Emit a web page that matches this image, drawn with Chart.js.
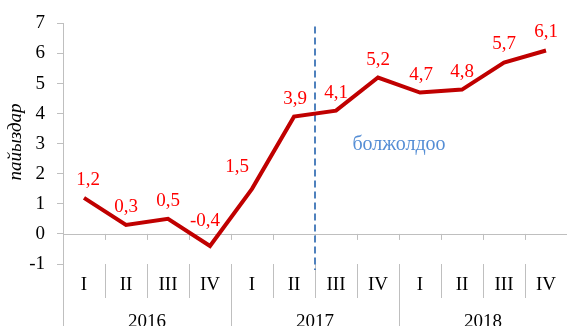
<!DOCTYPE html>
<html>
<head>
<meta charset="utf-8">
<script src="https://cdn.jsdelivr.net/npm/chart.js@4/dist/chart.umd.min.js"></script>
<style>
  body { margin: 0; background: #fff; }
  canvas { display: block; }
</style>
</head>
<body>
<canvas id="chart" width="567" height="326"></canvas>
<script>
// quarterly values, percent
const years = ["2016", "2017", "2018"];
const quarters = ["I", "II", "III", "IV"];
const values = [1.2, 0.3, 0.5, -0.4, 1.5, 3.9, 4.1, 5.2, 4.7, 4.8, 5.7, 6.1];
const yTicks = [-1, 0, 1, 2, 3, 4, 5, 6, 7];
const forecastFrom = 6; // first forecast quarter (2017 III)
const forecastText = "болжолдоо";
const yTitle = "пайыздар";

// small hand nudges for a couple of labels that sit off the line
const labelDx = [4, 0, 0, -5, -15, 1, 0, 0, 1, 0, 0, 0];
const labelDy = [0, 0, 0, -7, -4, 0, 0, 0, 0, 0, 0, 0];

const labels = [];
years.forEach(function (y) {
  quarters.forEach(function (q) { labels.push(q + " " + y); });
});

const serif = "'Liberation Serif', 'Times New Roman', serif";
const axisGray = "#bfbfbf";

const axesPlugin = {
  id: "quarterAxes",
  beforeDatasetsDraw: function (chart) {
    const ctx = chart.ctx;
    const xs = chart.scales.x;
    const ys = chart.scales.y;
    const area = chart.chartArea;
    const h = chart.height;
    const step = xs.getPixelForValue(1) - xs.getPixelForValue(0);
    const y0 = ys.getPixelForValue(0);

    ctx.save();
    ctx.strokeStyle = axisGray;
    ctx.lineWidth = 1;

    // zero line with small ticks at quarter boundaries
    ctx.beginPath();
    ctx.moveTo(area.left, Math.round(y0) + 0.5);
    ctx.lineTo(area.right, Math.round(y0) + 0.5);
    for (let i = 1; i <= values.length; i++) {
      const bx = Math.round(xs.getPixelForValue(i) - step / 2) + 0.5;
      ctx.moveTo(bx, y0);
      ctx.lineTo(bx, y0 + 6);
    }
    // y axis runs on down past the category rows
    ctx.moveTo(Math.round(area.left) + 0.5, area.bottom);
    ctx.lineTo(Math.round(area.left) + 0.5, h);
    // separators between quarters and years
    for (let i = 1; i < values.length; i++) {
      const bx = Math.round(xs.getPixelForValue(i) - step / 2) + 0.5;
      const yearEdge = i % quarters.length === 0;
      ctx.moveTo(bx, area.bottom);
      ctx.lineTo(bx, yearEdge ? h : area.bottom + 34);
    }
    ctx.stroke();

    ctx.fillStyle = "#000";
    ctx.font = "19px " + serif;
    ctx.textAlign = "center";
    ctx.textBaseline = "middle";
    for (let i = 0; i < values.length; i++) {
      ctx.fillText(quarters[i % quarters.length], xs.getPixelForValue(i), area.bottom + 21);
    }
    years.forEach(function (y, k) {
      const a = xs.getPixelForValue(k * quarters.length);
      const b = xs.getPixelForValue(k * quarters.length + quarters.length - 1);
      ctx.fillText(y, (a + b) / 2, area.bottom + 58);
    });

    // forecast divider
    const fx = xs.getPixelForValue(forecastFrom) - step / 2;
    ctx.strokeStyle = "#4f81bd";
    ctx.lineWidth = 2;
    ctx.setLineDash([7, 4]);
    ctx.beginPath();
    ctx.moveTo(fx, area.top + 3);
    ctx.lineTo(fx, area.bottom + 6);
    ctx.stroke();
    ctx.setLineDash([]);

    ctx.fillStyle = "#558ed5";
    ctx.font = "20px " + serif;
    ctx.fillText(forecastText, xs.getPixelForValue(7.5), ys.getPixelForValue(2.95));

    // rotated y title
    ctx.translate(16, 142);
    ctx.rotate(-Math.PI / 2);
    ctx.fillStyle = "#000";
    ctx.font = "italic 19px " + serif;
    ctx.fillText(yTitle, 0, 0);
    ctx.restore();
  },
  afterDatasetsDraw: function (chart) {
    const ctx = chart.ctx;
    const meta = chart.getDatasetMeta(0);
    ctx.save();
    ctx.fillStyle = "#ff0000";
    ctx.font = "19px " + serif;
    ctx.textAlign = "center";
    ctx.textBaseline = "middle";
    meta.data.forEach(function (pt, i) {
      const txt = String(values[i]).replace(".", ",");
      ctx.fillText(txt, pt.x + labelDx[i], pt.y - 18 + labelDy[i]);
    });
    ctx.restore();
  }
};

new Chart(document.getElementById("chart"), {
  type: "line",
  data: {
    labels: labels,
    datasets: [{
      data: values,
      borderColor: "#c00000",
      borderWidth: 4,
      pointRadius: 0,
      tension: 0,
      fill: false
    }]
  },
  options: {
    responsive: false,
    animation: false,
    layout: { padding: { top: 22, bottom: 62, left: 0, right: 0 } },
    plugins: {
      legend: { display: false },
      tooltip: { enabled: false }
    },
    scales: {
      x: {
        display: false,
        offset: true
      },
      y: {
        min: yTicks[0],
        max: yTicks[yTicks.length - 1],
        afterFit: function (scale) { scale.width = 63; },
        afterBuildTicks: function (scale) {
          scale.ticks = yTicks.map(function (v) { return { value: v }; });
        },
        border: { display: true, color: axisGray, width: 1 },
        grid: {
          drawOnChartArea: false,
          drawTicks: true,
          tickLength: 6,
          color: axisGray
        },
        ticks: {
          padding: 12,
          color: "#000",
          font: { family: serif, size: 19 }
        }
      }
    }
  },
  plugins: [axesPlugin]
});
</script>
</body>
</html>
